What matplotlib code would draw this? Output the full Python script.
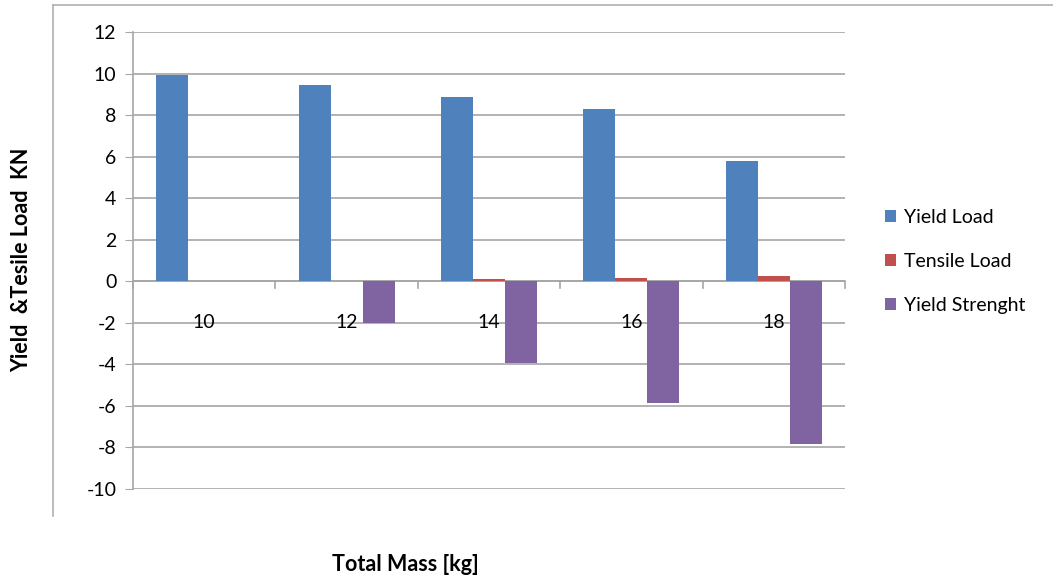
import numpy as np
import matplotlib.pyplot as plt
from matplotlib.lines import Line2D

plt.rcParams['font.family'] = ['Lato', 'DejaVu Sans']
plt.rcParams['axes.unicode_minus'] = False

masses = ['10', '12', '14', '16', '18']
yield_load = [9.93, 9.45, 8.88, 8.3, 5.78]
tensile_load = [0.0, 0.0, 0.1, 0.15, 0.25]
yield_strength = [0.0, -2.0, -3.95, -5.85, -7.85]

series = [
    ('Yield Load', yield_load, '#4f81bd'),
    ('Tensile Load', tensile_load, '#c0504d'),
    ('Yield Strenght', yield_strength, '#8064a2'),
]

fig = plt.figure(figsize=(10.53, 5.77), dpi=100)
ax = fig.add_axes([0.1263, 0.1525, 0.6762, 0.792])

x = np.arange(len(masses))
w = 0.225
for i, (name, vals, clr) in enumerate(series):
    ax.bar(x + (i - 1) * w, vals, width=w, color=clr, label=name, zorder=3)

ax.set_xlim(-0.5, len(masses) - 0.5)
ax.set_ylim(-10, 12)
ax.yaxis.set_major_locator(plt.MultipleLocator(2))
ax.grid(axis='y', color='#a6a6a6', linewidth=1.2, zorder=0)
ax.set_axisbelow(True)

for s in ['top', 'right', 'bottom']:
    ax.spines[s].set_visible(False)
ax.spines['left'].set_color('#a6a6a6')
ax.spines['left'].set_linewidth(1.2)

# category axis crosses at zero
ax.axhline(0, color='#a6a6a6', linewidth=1.2, zorder=2)
for b in np.arange(len(masses) + 1) - 0.5:
    ax.plot([b, b], [0, -0.3], color='#a6a6a6', linewidth=1.2, zorder=2, clip_on=False)

ax.set_xticks([])
for xi, lab in zip(x, masses):
    ax.text(xi, -2.0, lab, ha='center', va='center', fontsize=14, zorder=4)

ax.tick_params(axis='y', length=6, color='#a6a6a6', labelsize=14, pad=6)

fig.text(0.021, 0.55, 'Yield  &Tesile Load  KN', rotation=90, ha='center', va='center',
         fontsize=15.5, fontweight='bold')
fig.text(0.385, 0.022, 'Total Mass [kg]', ha='center', va='center',
         fontsize=15.5, fontweight='bold')

# chart area border, left and top edges only
fig.add_artist(Line2D([0.0503, 0.0503], [0.106, 0.991], color='#b0b0b0', linewidth=1.2))
fig.add_artist(Line2D([0.0503, 1.0], [0.991, 0.991], color='#b0b0b0', linewidth=1.2))

ax.legend(loc='center left', bbox_to_anchor=(1.032, 0.498), frameon=False, fontsize=14,
          handlelength=0.55, handleheight=0.55, handletextpad=0.4, labelspacing=1.38)

fig.savefig('out.png', dpi=100)
